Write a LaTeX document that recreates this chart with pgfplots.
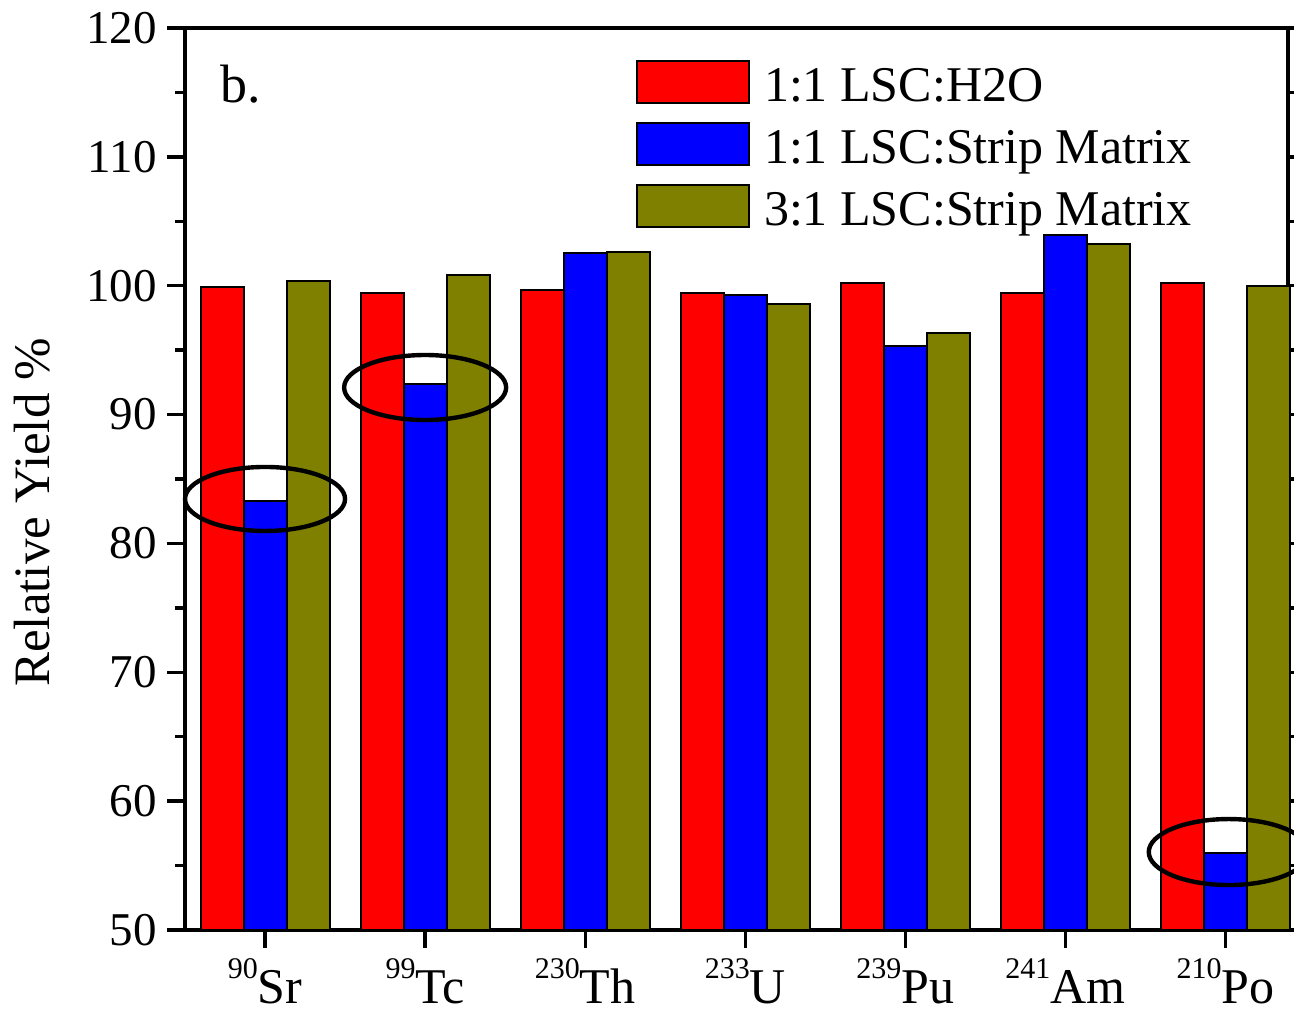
\documentclass[border=0pt]{standalone}
\usepackage{fontspec}
\setmainfont{Liberation Serif}
\usepackage{pgfplots}
\pgfplotsset{compat=1.18}
\definecolor{myred}{RGB}{255,0,0}
\definecolor{myblue}{RGB}{0,0,255}
\definecolor{myolive}{RGB}{128,128,0}
\newcommand\isosup[1]{\raisebox{13pt}{\fontsize{15}{15}\selectfont #1}}
\pgfplotsset{mylegend/.style={legend image code/.code={\draw[##1,draw=black,line width=1pt] (0pt,-7pt) rectangle (56pt,14pt);}}}
\begin{document}
\begin{tikzpicture}
\begin{axis}[
  at={(0,0)}, anchor=south west,
  scale only axis, width=551.5pt, height=451pt,
  ymin=50, ymax=120, xmin=-0.5, xmax=6.39,
  ybar=0pt, bar width=21.5pt,
  ytick={50,60,...,120}, minor y tick num=1,
  xtick={0,...,6},
  xticklabels={{\isosup{90}Sr},{\isosup{99}Tc},{\isosup{230}Th},{\isosup{233}U},{\isosup{239}Pu},{\isosup{241}Am},{\isosup{210}Po}},
  xtick pos=bottom, ytick pos=both,
  tick align=outside,
  major tick length=9pt, minor tick length=5pt,
  axis line style={line width=1.65pt},
  every tick/.style={line width=1.65pt, black},
  /pgf/number format/assume math mode=true,
  yticklabel style={font=\fontsize{23.5}{23.5}\selectfont, anchor=east, inner sep=0pt, xshift=-5pt},
  xticklabel style={font=\fontsize{25}{25}\selectfont, anchor=base, inner sep=0pt, yshift=-28pt},
  ylabel={Relative Yield \%},
  ylabel style={at={(axis description cs:-0.1224,0.4629)}, anchor=base, font=\fontsize{25.5}{25.5}\selectfont},
  legend style={at={(axis description cs:0.4089,0.9645)}, anchor=north west, draw=none, fill=none,
    inner sep=0pt, outer sep=0pt,
    font=\fontsize{25}{25}\selectfont, row sep=4.5pt,
    nodes={inner sep=0pt, text height=18pt, text depth=6pt},
    /tikz/every odd column/.style={column sep=7pt}},
  legend cell align=left,
  clip=false,
]
\addplot[fill=myred, draw=black, line width=1pt, mylegend] coordinates {(0,99.9) (1,99.4) (2,99.7) (3,99.4) (4,100.2) (5,99.4) (6,100.2)};
\addplot[fill=myblue, draw=black, line width=1pt, mylegend] coordinates {(0,83.3) (1,92.4) (2,102.5) (3,99.3) (4,95.3) (5,103.9) (6,56.0)};
\addplot[fill=myolive, draw=black, line width=1pt, mylegend] coordinates {(0,100.4) (1,100.8) (2,102.6) (3,98.6) (4,96.3) (5,103.2) (6,100.0)};
\legend{1:1 LSC:H2O, 1:1 LSC:Strip Matrix, 3:1 LSC:Strip Matrix}
\draw[line width=2.2pt] (axis cs:0,83.45) ellipse [x radius=40pt, y radius=16pt];
\draw[line width=2.2pt] (axis cs:1.0,92.1) ellipse [x radius=40.5pt, y radius=16.25pt];
\draw[line width=2.2pt] (axis cs:6.02,56.05) ellipse [x radius=40pt, y radius=16.5pt];
\node[anchor=base west, font=\fontsize{27}{27}\selectfont, inner sep=0pt] at (rel axis cs:0.0317,0.9169) {b.};
\end{axis}
\pgfresetboundingbox
\useasboundingbox (-92.5pt,-42.5pt) rectangle (554.5pt,465pt);
\end{tikzpicture}
\end{document}
